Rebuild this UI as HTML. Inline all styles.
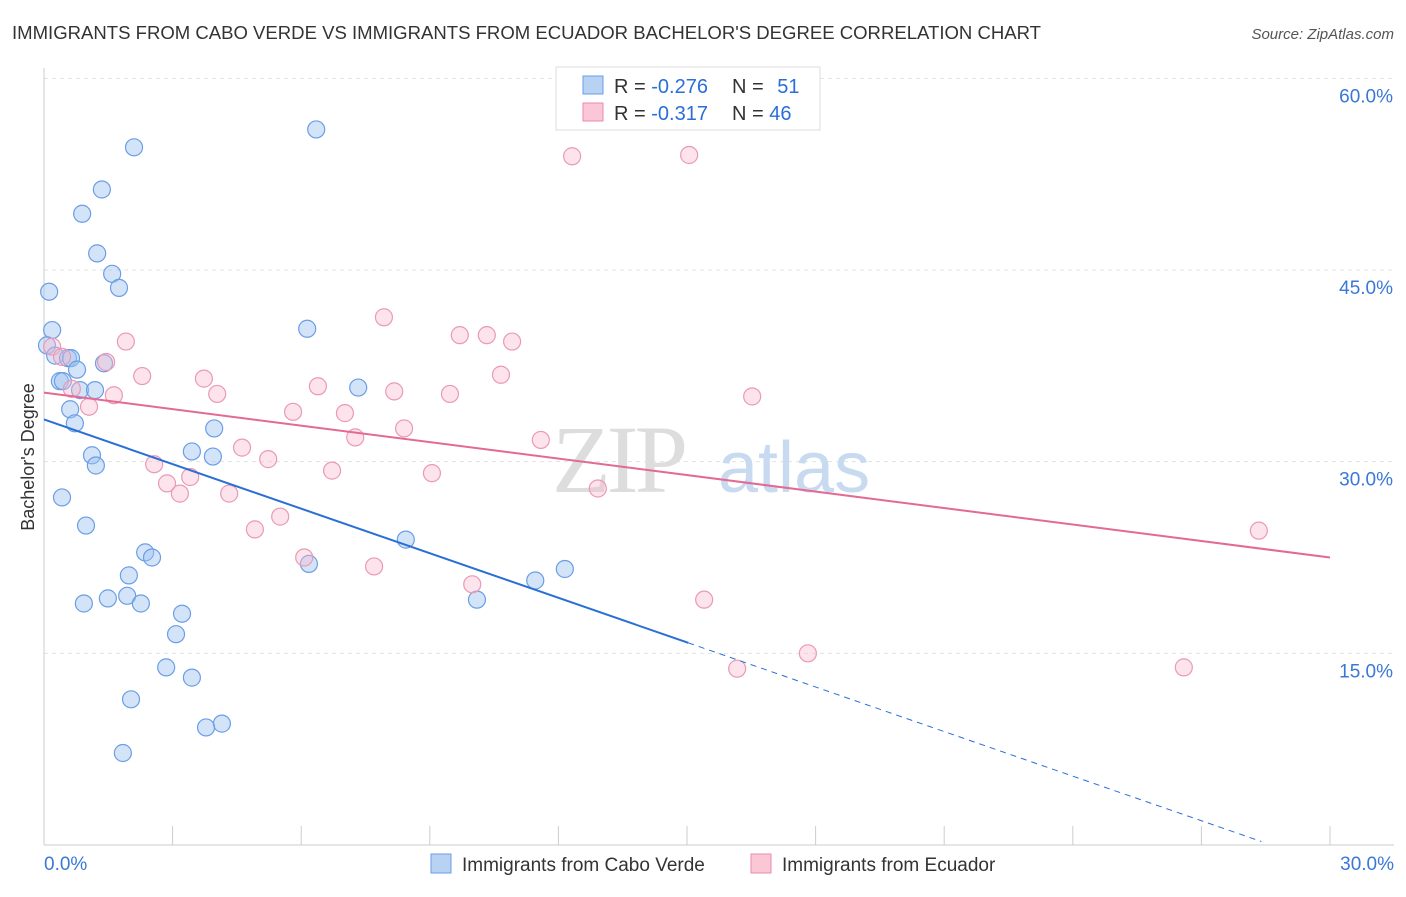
<!DOCTYPE html>
<html><head><meta charset="utf-8"><style>
body{margin:0;background:#fff;font-family:"Liberation Sans",sans-serif;}
</style></head><body>
<svg id="chart" width="1406" height="892" xmlns="http://www.w3.org/2000/svg" font-family="Liberation Sans, sans-serif">
<text x="12" y="39" font-size="18" fill="#333" textLength="1029" lengthAdjust="spacingAndGlyphs">IMMIGRANTS FROM CABO VERDE VS IMMIGRANTS FROM ECUADOR BACHELOR'S DEGREE CORRELATION CHART</text>
<text x="1394" y="39" font-size="15" fill="#555" text-anchor="end" font-style="italic">Source: ZipAtlas.com</text>
<g id="grid"></g>
<text x="552" y="492" font-size="96" fill="#ddd" font-family="Liberation Serif, serif" letter-spacing="-4">ZIP</text>
<text x="718" y="492" font-size="72" fill="#c8daf0">atlas</text>
<g id="axes"></g>
<g id="points"></g>
<g id="lines"></g>
<text transform="translate(34,457) rotate(-90)" font-size="18" fill="#333" text-anchor="middle">Bachelor's Degree</text>
<g>
<rect x="556" y="67" width="264" height="63" fill="#fff" stroke="#ddd"/>
<rect x="583" y="76" width="20" height="18" fill="#b8d2f4" stroke="#6a9ee6"/>
<rect x="583" y="103" width="20" height="18" fill="#fbc6d6" stroke="#ea8bab"/>
<text x="614" y="93" font-size="20" fill="#333">R = <tspan fill="#2a6fd6">-0.276</tspan></text>
<text x="732" y="93" font-size="20" fill="#333">N = <tspan fill="#2a6fd6" dx="8">51</tspan></text>
<text x="614" y="120" font-size="20" fill="#333">R = <tspan fill="#2a6fd6">-0.317</tspan></text>
<text x="732" y="120" font-size="20" fill="#333">N = <tspan fill="#2a6fd6">46</tspan></text>
</g>
<g>
<rect x="431" y="854" width="20" height="19" fill="#b8d2f4" stroke="#6a9ee6"/>
<text x="462" y="871" font-size="19" fill="#333">Immigrants from Cabo Verde</text>
<rect x="751" y="854" width="20" height="19" fill="#fbc6d6" stroke="#ea8bab"/>
<text x="782" y="871" font-size="19" fill="#333">Immigrants from Ecuador</text>
</g>
</svg>
<script>
const yTicks=[15,30,45,60];
const yTickLabels=["15.0%","30.0%","45.0%","60.0%"];
const xTickLabels=["0.0%","30.0%"];
const blueX=[6.35,2.10,1.35,0.89,1.24,1.59,1.75,0.12,0.19,6.14,0.07,0.26,0.56,0.63,0.77,1.40,0.37,0.44,0.84,1.19,7.33,0.61,0.72,3.97,3.45,3.94,1.12,1.21,0.42,0.98,8.44,2.36,2.52,12.15,6.18,11.46,1.98,1.94,1.49,0.93,2.26,10.10,3.22,3.08,2.85,3.45,2.03,4.15,3.78,1.84];
const blueY=[56.0,54.6,51.3,49.4,46.3,44.7,43.6,43.3,40.3,40.4,39.1,38.3,38.1,38.1,37.2,37.7,36.3,36.3,35.6,35.6,35.8,34.1,33.0,32.6,30.8,30.4,30.5,29.7,27.2,25.0,23.9,22.9,22.5,21.6,22.0,20.7,21.1,19.5,19.3,18.9,18.9,19.2,18.1,16.5,13.9,13.1,11.4,9.5,9.2,7.2];
const pinkX=[12.32,15.05,7.93,9.70,10.33,10.92,1.91,0.19,0.42,1.45,2.29,3.73,10.66,6.39,0.65,8.17,1.63,4.04,9.47,16.52,1.05,5.81,7.02,8.40,7.26,11.59,4.62,5.23,2.57,6.72,9.05,3.41,2.87,3.17,4.32,12.92,5.51,4.92,6.07,7.70,9.99,15.40,28.34,17.82,16.17,26.59];
const pinkY=[53.9,54.0,41.3,39.9,39.9,39.4,39.4,39.0,38.2,37.8,36.7,36.5,36.8,35.9,35.7,35.5,35.2,35.3,35.3,35.1,34.3,33.9,33.8,32.6,31.9,31.7,31.1,30.2,29.8,29.3,29.1,28.8,28.3,27.5,27.5,27.9,25.7,24.7,22.5,21.8,20.4,19.2,24.6,15.0,13.8,13.9];
const blueTrend=[33.3,-1.163];
const pinkTrend=[35.4,-0.43];
const X=v=>44+v/30*1286, Y=v=>845-v/15*191.67;
const NS="http://www.w3.org/2000/svg";
function mk(p,t,a){const e=document.createElementNS(NS,t);for(const k in a)e.setAttribute(k,a[k]);p.appendChild(e);return e;}
const grid=document.getElementById('grid'),axes=document.getElementById('axes');
yTicks.forEach((t,i)=>{
 const l=mk(grid,'line',{x1:44,x2:1394,y1:Y(t),y2:Y(t),stroke:'#e3e3e3','stroke-dasharray':'4,4'});
 
 
 const tx=mk(axes,'text',{x:1393,y:Y(t)+24,'font-size':19,fill:'#3a78d6','text-anchor':'end'});
 tx.textContent=yTickLabels[i];
 
 
});
const ax=mk(axes,'line',{x1:44,x2:1394,y1:845,y2:845,stroke:'#ccc'});


const ay=mk(axes,'line',{x1:44,x2:44,y1:68,y2:845,stroke:'#ccc'});


for(let i=0;i<=10;i++){const t=mk(axes,'line',{x1:X(i*3),x2:X(i*3),y1:826,y2:845,stroke:'#ccc'});
 
 }
[[0,'start',44],[30,'end',1394]].forEach((d,i)=>{const t=mk(axes,'text',{x:d[2],y:870,'font-size':19,fill:'#3a78d6','text-anchor':d[1]});t.textContent=xTickLabels[i];
 
 });
const pts=document.getElementById('points');
blueX.forEach((x,i)=>{const c=mk(pts,'circle',{cx:X(x),cy:Y(blueY[i]),r:8.5,fill:'rgba(160,196,240,0.45)',stroke:'#6a9ee6','stroke-width':1.2});
 
 });
pinkX.forEach((x,i)=>{const c=mk(pts,'circle',{cx:X(x),cy:Y(pinkY[i]),r:8.5,fill:'rgba(249,184,204,0.4)',stroke:'#ea9ab4','stroke-width':1.2});
 
 });
const ln=document.getElementById('lines');
const b=v=>blueTrend[0]+blueTrend[1]*v, p=v=>pinkTrend[0]+pinkTrend[1]*v;
let l1=mk(ln,'line',{x1:X(0),y1:Y(b(0)),x2:X(15.03),y2:Y(b(15.03)),stroke:'#2a6fd6','stroke-width':2});


let l2=mk(ln,'line',{x1:X(15.03),y1:Y(b(15.03)),x2:X(28.4),y2:Y(b(28.4)),stroke:'#2a6fd6','stroke-width':1,'stroke-dasharray':'6,5'});


let l3=mk(ln,'line',{x1:X(0),y1:Y(p(0)),x2:X(30),y2:Y(p(30)),stroke:'#e26a94','stroke-width':2});


</script>
</body></html>
